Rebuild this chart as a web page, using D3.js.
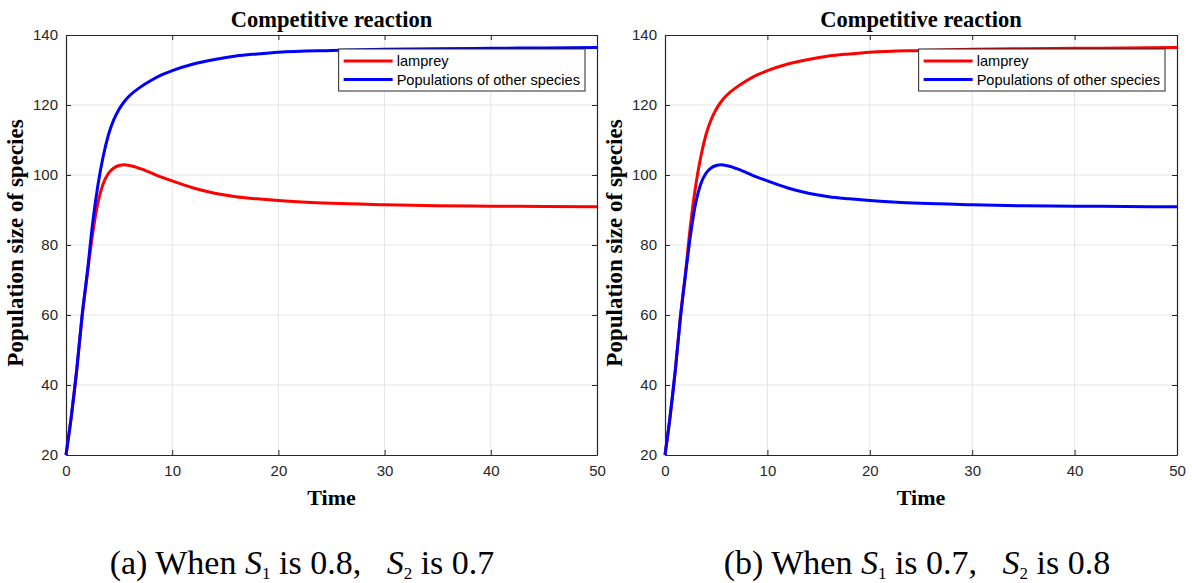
<!DOCTYPE html>
<html>
<head>
<meta charset="utf-8">
<script src="https://cdn.jsdelivr.net/npm/d3@7"></script>
<style>
  body { margin: 0; background: #fff; }
  svg { display: block; }
</style>
</head>
<body>
<script>
// values
let time = [0, 0.5, 1, 1.5, 2, 2.5, 3, 3.5, 4, 4.5, 5, 5.5, 6, 7, 8, 9, 10, 12, 14, 16, 18, 20, 25, 30, 35, 40, 45, 50];

// panel (a): S1 = 0.8, S2 = 0.7
let lampreyA = [20, 31, 44, 59, 71.5, 83, 92, 97.5, 100.5, 102, 102.7, 102.9, 102.7, 101.8, 100.6, 99.4, 98.3, 96.3, 94.8, 93.8, 93.2, 92.7, 91.9, 91.5, 91.2, 91.1, 91.0, 90.9];
let otherA = [20, 31, 44, 59.5, 72, 86, 97, 105.3, 111.5, 115.8, 118.8, 121, 122.7, 125.1, 127, 128.6, 129.8, 131.7, 133, 134, 134.6, 135.1, 135.6, 135.9, 136.1, 136.2, 136.3, 136.4];

// panel (b): S1 = 0.7, S2 = 0.8
let lampreyB = [20, 31, 44, 59.5, 72, 86, 97, 105.3, 111.5, 115.8, 118.8, 121, 122.7, 125.1, 127, 128.6, 129.8, 131.7, 133, 134, 134.6, 135.1, 135.6, 135.9, 136.1, 136.2, 136.3, 136.4];
let otherB = [20, 31, 44, 59, 71.5, 83, 92, 97.5, 100.5, 102, 102.7, 102.9, 102.7, 101.8, 100.6, 99.4, 98.3, 96.3, 94.8, 93.8, 93.2, 92.7, 91.9, 91.5, 91.2, 91.1, 91.0, 90.9];

let xTicks = [0, 10, 20, 30, 40, 50];
let yTicks = [20, 40, 60, 80, 100, 120, 140];
let seriesNames = ["lamprey", "Populations of other species"];
let seriesColors = ["#ff0000", "#0000ff"];

let panels = [
    {left: 66, right: 597, capX: 302, label: "a", s1: "0.8", s2: "0.7", series: [lampreyA, otherA]},
    {left: 665, right: 1177, capX: 917, label: "b", s1: "0.7", s2: "0.8", series: [lampreyB, otherB]}
];

function main(){
    let width = 1192;
    let height = 583;
    let top = 35, bottom = 455;
    let axisColor = "#262626";
    let sans = "'Liberation Sans', Arial, sans-serif";
    let serif = "'Liberation Serif', 'Times New Roman', serif";

    let svg = d3.select("body").append("svg")
        .attr("width", width)
        .attr("height", height);

    panels.forEach(function(p){
        let x = d3.scaleLinear().domain([0, 50]).range([p.left, p.right]);
        let y = d3.scaleLinear().domain([20, 140]).range([bottom, top]);
        let g = svg.append("g");

        // grid
        g.append("g").selectAll("line")
            .data(xTicks.slice(1, -1))
            .enter().append("line")
            .attr("x1", d => x(d)).attr("x2", d => x(d))
            .attr("y1", top).attr("y2", bottom)
            .style("stroke", "#e3e3e3").style("stroke-width", 1);
        g.append("g").selectAll("line")
            .data(yTicks.slice(1, -1))
            .enter().append("line")
            .attr("x1", p.left).attr("x2", p.right)
            .attr("y1", d => y(d)).attr("y2", d => y(d))
            .style("stroke", "#e3e3e3").style("stroke-width", 1);

        // axes
        let xAxis = g.append("g")
            .attr("transform", "translate(0," + bottom + ")")
            .call(d3.axisBottom(x).tickValues(xTicks).tickSizeInner(-5).tickSizeOuter(0).tickPadding(10));
        let xTop = g.append("g")
            .attr("transform", "translate(0," + top + ")")
            .call(d3.axisTop(x).tickValues(xTicks).tickSizeInner(-5).tickSizeOuter(0).tickFormat(""));
        let yAxis = g.append("g")
            .attr("transform", "translate(" + p.left + ",0)")
            .call(d3.axisLeft(y).tickValues(yTicks).tickSizeInner(-5).tickSizeOuter(0).tickPadding(8));
        let yRight = g.append("g")
            .attr("transform", "translate(" + p.right + ",0)")
            .call(d3.axisRight(y).tickValues(yTicks).tickSizeInner(-5).tickSizeOuter(0).tickFormat(""));

        [xAxis, xTop, yAxis, yRight].forEach(function(a){
            a.selectAll("path").style("stroke", axisColor).style("stroke-width", 1.2);
            a.selectAll("line").style("stroke", axisColor);
            a.selectAll("text")
                .style("font-family", sans)
                .style("font-size", "15px")
                .style("fill", axisColor);
        });

        // lines
        let line = d3.line()
            .x((d, i) => x(time[i]))
            .y(d => y(d))
            .curve(d3.curveMonotoneX);

        p.series.forEach(function(s, i){
            g.append("path")
                .datum(s)
                .attr("d", line)
                .style("fill", "none")
                .style("stroke", seriesColors[i])
                .style("stroke-width", 3);
        });

        // legend
        let lg = g.append("g");
        let box = lg.append("rect")
            .style("fill", "#fff")
            .style("stroke", axisColor)
            .style("stroke-width", 1);
        let maxW = 0;
        seriesNames.forEach(function(n, i){
            let t = lg.append("text")
                .attr("x", 58)
                .attr("y", 17 + i * 18.5)
                .style("font-family", sans)
                .style("font-size", "14.6px")
                .style("fill", "#000")
                .text(n);
            maxW = Math.max(maxW, t.node().getComputedTextLength());
            lg.append("line")
                .attr("x1", 5).attr("x2", 54)
                .attr("y1", 12 + i * 18.5).attr("y2", 12 + i * 18.5)
                .style("stroke", seriesColors[i])
                .style("stroke-width", 3);
        });
        let boxW = 58 + maxW + 5;
        box.attr("x", 0).attr("y", 0).attr("width", boxW).attr("height", 42);
        lg.attr("transform", "translate(" + (p.right - 12 - boxW) + "," + (top + 14) + ")");

        // titles
        let cx = (p.left + p.right) / 2;
        g.append("text")
            .attr("x", cx).attr("y", 27)
            .attr("text-anchor", "middle")
            .style("font-family", serif).style("font-weight", "bold").style("font-size", "22.5px")
            .text("Competitive reaction");
        g.append("text")
            .attr("x", cx).attr("y", 505)
            .attr("text-anchor", "middle")
            .style("font-family", serif).style("font-weight", "bold").style("font-size", "22px")
            .text("Time");
        g.append("text")
            .attr("transform", "translate(" + (p.left - 43) + "," + ((top + bottom) / 2 - 2) + ") rotate(-90)")
            .attr("text-anchor", "middle")
            .style("font-family", serif).style("font-weight", "bold").style("font-size", "23px")
            .text("Population size of species");

        // caption
        let cap = g.append("text")
            .attr("x", p.capX).attr("y", 574)
            .attr("text-anchor", "middle")
            .style("font-family", serif).style("font-size", "34px")
            .style("fill", "#000");
        cap.append("tspan").text("(" + p.label + ") When ");
        cap.append("tspan").style("font-style", "italic").text("S");
        cap.append("tspan").attr("dy", 5).style("font-size", "17px").text("1");
        cap.append("tspan").attr("dy", -5).text(" is " + p.s1 + ",\u00a0\u00a0\u00a0");
        cap.append("tspan").style("font-style", "italic").text("S");
        cap.append("tspan").attr("dy", 5).style("font-size", "17px").text("2");
        cap.append("tspan").attr("dy", -5).text(" is " + p.s2);
    });
}

main();
</script>
</body>
</html>
